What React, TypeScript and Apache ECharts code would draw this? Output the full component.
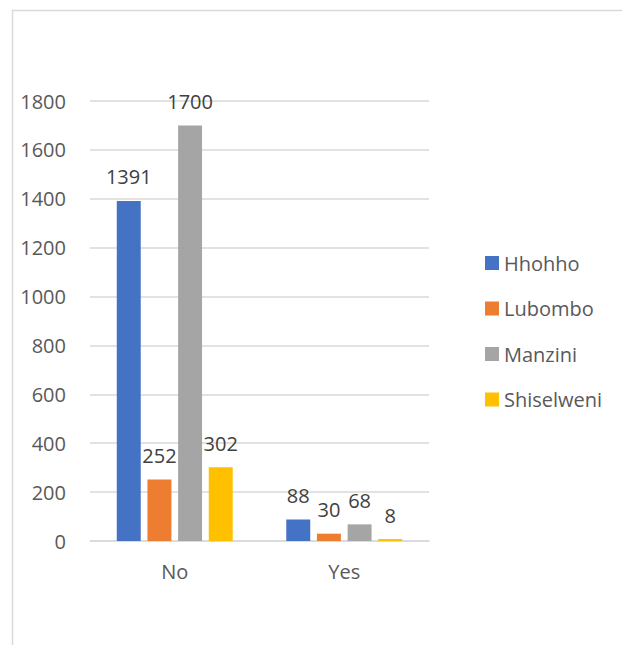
import React, { useEffect, useRef } from "react";
import * as echarts from "echarts";

const categories = ["No", "Yes"];
const seriesNames = ["Hhohho", "Lubombo", "Manzini", "Shiselweni"];
const hhohho = [1391, 88];
const lubombo = [252, 30];
const manzini = [1700, 68];
const shiselweni = [302, 8];
const colors = ["#4472C4", "#ED7D31", "#A5A5A5", "#FFC000"];

export default function App() {
  const ref = useRef<HTMLDivElement>(null);
  useEffect(() => {
    if (!ref.current) return;
    const chart = echarts.init(ref.current, null, { renderer: "svg" });
    const font = "Open Sans";
    const values = [hhohho, lubombo, manzini, shiselweni];
    chart.setOption({
      animation: false,
      color: colors,
      textStyle: { fontFamily: font },
      graphic: [
        {
          type: "rect",
          shape: { x: 12.5, y: 10.5, width: 700, height: 700 },
          style: { fill: "none", stroke: "#D9D9D9", lineWidth: 1.5 },
          silent: true,
        },
      ],
      grid: { left: 90, right: 193, top: 101, bottom: 104, containLabel: false },
      legend: {
        orient: "vertical",
        left: 480,
        top: 248,
        itemWidth: 14,
        itemHeight: 14,
        itemGap: 25.5,
        icon: "rect",
        data: seriesNames,
        textStyle: { fontFamily: font, fontSize: 20, color: "#595959", lineHeight: 20 },
      },
      xAxis: {
        type: "category",
        data: categories,
        axisLine: { lineStyle: { color: "#D9D9D9", width: 1.5 } },
        axisTick: { show: false },
        axisLabel: { color: "#595959", fontSize: 20, fontFamily: font, margin: 20 },
      },
      yAxis: {
        type: "value",
        min: 0,
        max: 1800,
        interval: 200,
        axisLine: { show: false },
        axisTick: { show: false },
        splitLine: { lineStyle: { color: "#D9D9D9", width: 1.5 } },
        axisLabel: {
          color: "#595959",
          fontSize: 20,
          fontFamily: font,
          margin: 24,
          formatter: (v: number) => String(v),
        },
      },
      series: seriesNames.map((name, i) => ({
        name,
        type: "bar",
        data: values[i],
        barGap: "28%",
        barCategoryGap: "31.6%",
        itemStyle: { color: colors[i] },
        label: {
          show: true,
          position: "top",
          distance: 14,
          color: "#404040",
          fontSize: 20,
          fontFamily: font,
        },
      })),
    });
    return () => chart.dispose();
  }, []);
  return (
    <div
      ref={ref}
      style={{ position: "fixed", left: 0, top: 0, width: 622, height: 645, background: "#fff" }}
    />
  );
}
